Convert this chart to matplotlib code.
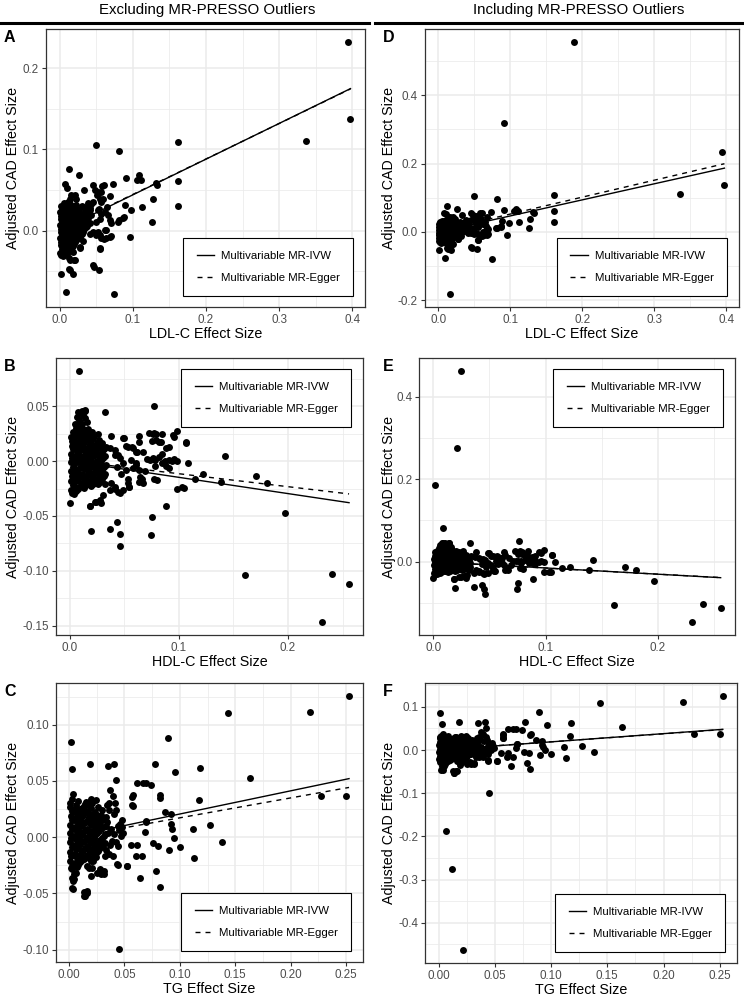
import numpy as np
import matplotlib
matplotlib.use('Agg')
import matplotlib.pyplot as plt
from matplotlib.ticker import MultipleLocator, FuncFormatter
from matplotlib.lines import Line2D

plt.rcParams['font.family'] = ['Liberation Sans', 'DejaVu Sans']
plt.rcParams['axes.unicode_minus'] = False

# ---- data: (exposure effect, adjusted CAD effect) ----
ldl_pts = np.array([
    [0.3945, 0.2328], [0.3975, 0.1377], [0.336, 0.1098], [0.161, 0.109], [0.161, 0.0607], [0.161, 0.030],
    [0.049, 0.1057], [0.081, 0.0975], [0.0127, 0.0758], [0.026, 0.0684], [0.0077, 0.057], [0.0105, 0.053],
    [0.045, 0.0557], [0.0486, 0.0496], [0.051, 0.044], [0.061, 0.0566], [0.073, 0.0574], [0.033, 0.0504],
    [0.091, 0.065], [0.108, 0.068], [0.105, 0.062], [0.111, 0.062], [0.132, 0.059], [0.133, 0.0557],
    [0.128, 0.039], [0.112, 0.029], [0.126, 0.0107], [0.0886, 0.031], [0.087, 0.016], [0.098, 0.0258],
    [0.0955, -0.0074], [0.080, 0.0107], [0.0695, 0.0094], [0.068, -0.0074], [0.063, 0.0008], [0.060, -0.0107],
    [0.0545, -0.023], [0.057, 0.0475], [0.059, 0.039], [0.0645, 0.029], [0.053, 0.026], [0.046, 0.035],
    [0.038, 0.0344], [0.046, -0.0426], [0.0536, -0.049], [0.0745, -0.0787], [0.009, -0.0754], [0.0014, -0.054],
    [0.0123, -0.0475], [0.0177, -0.053], [0.019, -0.0365], [0.0123, -0.0344], [0.0273, -0.020], [0.0145, -0.019],
    [0.041, -0.0037], [0.050, -0.0057], [0.052, -0.0016], [0.032, -0.013], [0.027, -0.0078],
    [0.016, 0.0434], [0.0205, 0.0443], [0.0227, 0.039], [0.0136, 0.039], [0.0523, 0.0476], [0.058, 0.055],
    [0.0555, 0.039], [0.0568, 0.0353], [0.068, 0.0427], [0.0432, 0.0332], [0.0364, 0.0291], [0.041, 0.025],
    [0.0523, 0.025], [0.0568, 0.0209], [0.0614, 0.023], [0.066, 0.0188], [0.068, 0.0127], [0.0545, 0.0148],
    [0.050, 0.0107], [0.0455, -0.0016], [0.0545, -0.0058], [0.0614, 0.0004], [0.0637, -0.0098], [0.0568, -0.009],
    [0.0695, -0.0066], [0.0555, -0.0221], [0.0273, -0.0213], [0.018, -0.0262], [0.0146, -0.0365], [0.0205, -0.0365],
    [0.0068, -0.0283], [0.0023, -0.0304], [0.0045, -0.0242], [0.0136, -0.0488], [0.0468, -0.0455],
    [0.0877, 0.0168], [0.0809, 0.0127],
    [0.0008, -0.0275], [0.0012, -0.0182], [0.0006, -0.0098], [0.0015, -0.0021], [0.0009, 0.0062], [0.0013, 0.0141],
    [0.0007, 0.0224], [0.0018, 0.0298], [0.0042, -0.0311], [0.0038, -0.0223], [0.0045, -0.0131], [0.0036, -0.0048],
    [0.0041, 0.0034], [0.0047, 0.0108], [0.0039, 0.0192], [0.0044, 0.0268], [0.0051, 0.0336], [0.0072, -0.0258],
    [0.0069, -0.0166], [0.0075, -0.0079], [0.0068, 0.0004], [0.0078, 0.0083], [0.0071, 0.0159], [0.0074, 0.0243],
    [0.0079, 0.0318], [0.0101, -0.0287], [0.0098, -0.0203], [0.0105, -0.0112], [0.0097, -0.0028], [0.0103, 0.0052],
    [0.0108, 0.0131], [0.0099, 0.0213], [0.0104, 0.0288], [0.0112, 0.0357], [0.0131, -0.0238], [0.0128, -0.0149],
    [0.0135, -0.0061], [0.0127, 0.0022], [0.0133, 0.0098], [0.0138, 0.0181], [0.0129, 0.0262], [0.0134, 0.0329],
    [0.0162, -0.0203], [0.0158, -0.0108], [0.0165, -0.0019], [0.0159, 0.0071], [0.0166, 0.0152], [0.0161, 0.0232],
    [0.0168, 0.0308], [0.0192, -0.0171], [0.0188, -0.0083], [0.0195, 0.0011], [0.0189, 0.0098], [0.0197, 0.0187],
    [0.0191, 0.0279], [0.0223, -0.0118], [0.0218, -0.0032], [0.0226, 0.0058], [0.0221, 0.0141], [0.0228, 0.0222],
    [0.0224, 0.0318], [0.0258, -0.0089], [0.0262, 0.0003], [0.0255, 0.0092], [0.0264, 0.0171], [0.0259, 0.0252],
    [0.0298, -0.0048], [0.0303, 0.0042], [0.0296, 0.0124], [0.0305, 0.0208], [0.0301, 0.0297], [0.0338, 0.0019],
    [0.0344, 0.0108], [0.0336, 0.0193], [0.0342, 0.0271], [0.0378, 0.0061], [0.0385, 0.0152], [0.0381, 0.0232],
    [0.0418, 0.0098], [0.0424, 0.0189], [0.0415, 0.0276],
    [0.0025, -0.0232], [0.0022, -0.0141], [0.0028, -0.0062], [0.0021, 0.0019], [0.0026, 0.0101], [0.0023, 0.0183],
    [0.0029, 0.0259], [0.0057, -0.0271], [0.0061, -0.0178], [0.0055, -0.0092], [0.0059, -0.0011], [0.0063, 0.0071],
    [0.0056, 0.0149], [0.0062, 0.0229], [0.0058, 0.0302], [0.0088, -0.0241], [0.0085, -0.0152], [0.0091, -0.0068],
    [0.0087, 0.0018], [0.0093, 0.0097], [0.0086, 0.0178], [0.0089, 0.0262], [0.0092, 0.0331], [0.0118, -0.0255],
    [0.0115, -0.0168], [0.0121, -0.0083], [0.0117, 0.0009], [0.0122, 0.0088], [0.0116, 0.0168], [0.0119, 0.0248],
    [0.0123, 0.0311], [0.0147, -0.0221], [0.0144, -0.0127], [0.0149, -0.0041], [0.0146, 0.0048], [0.0151, 0.0128],
    [0.0143, 0.0208], [0.0148, 0.0287], [0.0177, -0.0188], [0.0174, -0.0096], [0.0179, -0.0008], [0.0176, 0.0082],
    [0.0181, 0.0168], [0.0173, 0.0251], [0.0207, -0.0142], [0.0204, -0.0052], [0.0209, 0.0036], [0.0206, 0.0121],
    [0.0211, 0.0201], [0.0203, 0.0298], [0.0241, -0.0103], [0.0238, -0.0016], [0.0244, 0.0073], [0.0239, 0.0157],
    [0.0246, 0.0238], [0.0281, -0.0071], [0.0278, 0.0021], [0.0284, 0.0108], [0.0279, 0.0188], [0.0321, -0.0021],
    [0.0318, 0.0064], [0.0325, 0.0152], [0.0361, 0.0038], [0.0358, 0.0129], [0.0365, 0.0212],
])

hdl_pts = np.array([
    [0.0082, 0.0825], [0.0767, 0.050], [0.0324, 0.0449], [0.0085, 0.0443], [0.0142, 0.0458],
    [0.0764, 0.0247], [0.079, 0.0247], [0.084, 0.025], [0.079, 0.0196], [0.0833, 0.0172], [0.0945, 0.024],
    [0.0985, 0.0277], [0.106, 0.0166], [0.063, 0.0232], [0.049, 0.021], [0.0515, 0.0136], [0.0567, 0.0127],
    [0.0615, 0.0087], [0.067, 0.0087], [0.0758, 0.0027], [0.078, 0.0012], [0.078, -0.004], [0.0873, -0.0003],
    [0.091, 0.0006], [0.094, -0.0003], [0.0879, 0.012], [0.0848, 0.0066], [0.108, -0.0015], [0.1218, -0.012],
    [0.115, -0.016], [0.139, -0.019], [0.142, 0.0045], [0.171, -0.0136], [0.1806, -0.0196], [0.197, -0.0476],
    [0.1606, -0.1042], [0.2403, -0.1033], [0.256, -0.1123], [0.2309, -0.147],
    [0.0985, -0.0256], [0.103, -0.024], [0.105, -0.0245], [0.0885, -0.041], [0.0752, -0.0506], [0.0742, -0.0672],
    [0.043, -0.0554], [0.0364, -0.0617], [0.0455, -0.0663], [0.046, -0.077], [0.0197, -0.064], [0.018, -0.0407],
    [0.0242, -0.037], [0.0288, -0.0386], [0.0, -0.0386], [0.0015, -0.0295], [0.0036, -0.030],
    [0.041, -0.0235], [0.0455, -0.0295], [0.049, -0.0265], [0.054, -0.0235], [0.053, -0.016], [0.066, -0.0166],
    [0.0645, -0.0145], [0.063, -0.0084], [0.061, -0.0033], [0.038, -0.020], [0.0606, -0.0015], [0.0736, 0.0012],
    [0.0412, 0.006], [0.0379, 0.0232], [0.037, 0.0121], [0.0409, 0.0097], [0.044, 0.0058], [0.050, 0.0212],
    [0.053, 0.0133], [0.0576, 0.0121], [0.0606, 0.0081], [0.0727, 0.0253], [0.0773, 0.0253], [0.0636, 0.0172],
    [0.0757, 0.0187], [0.0818, 0.0172], [0.0909, 0.0127], [0.0955, 0.0217], [0.1061, 0.0172],
    [0.0818, 0.004], [0.0848, -0.002], [0.0909, -0.006], [0.0955, 0.002], [0.0985, 0.0], [0.0879, -0.004],
    [0.0636, -0.019], [0.0667, -0.0204], [0.053, -0.0204], [0.0545, -0.0235], [0.0409, -0.025], [0.0364, -0.0265],
    [0.044, -0.028], [0.0773, -0.016], [0.0803, -0.0175], [0.0227, -0.037], [0.0273, -0.0355], [0.0303, -0.031],
    [0.0188, -0.0407], [0.0075, 0.0452], [0.0106, 0.0458], [0.0136, 0.0465],
    [0.046, 0.003], [0.049, -0.002], [0.051, -0.008], [0.047, -0.012], [0.043, -0.005], [0.056, 0.001],
    [0.058, -0.006], [0.071, 0.002], [0.069, -0.009],
    [0.0009, -0.0262], [0.0014, -0.0178], [0.0007, -0.0091], [0.0012, -0.0012], [0.0006, 0.0068], [0.0015, 0.0142],
    [0.0011, 0.0224], [0.0038, -0.0228], [0.0043, -0.0139], [0.0036, -0.0052], [0.0041, 0.0029], [0.0047, 0.0107],
    [0.0039, 0.0189], [0.0044, 0.0265], [0.0049, 0.0342], [0.0071, -0.0251], [0.0075, -0.0168], [0.0068, -0.0083],
    [0.0077, -0.0004], [0.0072, 0.0078], [0.0079, 0.0155], [0.0069, 0.0236], [0.0074, 0.0301], [0.0081, 0.0372],
    [0.0102, -0.0216], [0.0098, -0.0131], [0.0106, -0.0047], [0.0101, 0.0036], [0.0108, 0.0118], [0.0097, 0.0198],
    [0.0104, 0.0275], [0.0109, 0.0336], [0.0133, -0.0243], [0.0128, -0.0158], [0.0136, -0.0072], [0.0131, 0.0009],
    [0.0138, 0.0091], [0.0127, 0.0172], [0.0135, 0.0248], [0.0141, 0.0392], [0.0162, -0.0199], [0.0167, -0.0113],
    [0.0159, -0.0029], [0.0165, 0.0053], [0.0171, 0.0134], [0.0158, 0.0214], [0.0168, 0.0296], [0.0194, -0.0228],
    [0.0198, -0.0143], [0.0191, -0.0058], [0.0197, 0.0024], [0.0202, 0.0104], [0.0189, 0.0187], [0.0199, 0.0262],
    [0.0226, -0.0188], [0.0231, -0.0099], [0.0222, -0.0017], [0.0229, 0.0066], [0.0235, 0.0148], [0.0224, 0.0228],
    [0.0258, -0.0212], [0.0262, -0.0125], [0.0255, -0.0041], [0.0266, 0.0038], [0.0259, 0.0119], [0.0268, 0.0196],
    [0.0261, 0.0251], [0.0291, -0.0161], [0.0296, -0.0078], [0.0288, 0.0003], [0.0298, 0.0087], [0.0293, 0.0166],
    [0.0324, -0.0118], [0.0329, -0.0036], [0.0321, 0.0049], [0.0332, 0.0128], [0.0318, -0.0205],
    [0.0024, -0.0221], [0.0021, -0.0134], [0.0027, -0.0052], [0.0022, 0.0027], [0.0026, 0.0106], [0.0023, 0.0183],
    [0.0028, 0.0262], [0.0056, -0.0269], [0.0059, -0.0185], [0.0054, -0.0096], [0.0058, -0.0012], [0.0062, 0.0068],
    [0.0055, 0.0148], [0.0061, 0.0228], [0.0057, 0.0305], [0.0063, 0.0398], [0.0087, -0.0233], [0.0084, -0.0149],
    [0.0089, -0.0064], [0.0086, 0.0018], [0.0091, 0.0098], [0.0085, 0.0178], [0.0088, 0.0258], [0.0092, 0.0355],
    [0.0117, -0.0199], [0.0114, -0.0113], [0.0119, -0.0029], [0.0116, 0.0051], [0.0121, 0.0134], [0.0113, 0.0213],
    [0.0118, 0.0292], [0.0122, 0.0421], [0.0148, -0.0221], [0.0145, -0.0136], [0.0151, -0.0051], [0.0147, 0.0031],
    [0.0152, 0.0112], [0.0144, 0.0193], [0.0149, 0.0272], [0.0153, 0.0352], [0.0178, -0.0178], [0.0175, -0.0092],
    [0.0181, -0.0008], [0.0177, 0.0074], [0.0183, 0.0153], [0.0174, 0.0238], [0.0211, -0.0206], [0.0208, -0.0121],
    [0.0213, -0.0037], [0.0209, 0.0046], [0.0215, 0.0126], [0.0207, 0.0208], [0.0243, -0.0167], [0.0239, -0.0079],
    [0.0246, 0.0004], [0.0241, 0.0086], [0.0247, 0.0169], [0.0275, -0.0188], [0.0278, -0.0101], [0.0272, -0.0019],
    [0.0281, 0.0061], [0.0276, 0.0141], [0.0308, -0.0139], [0.0311, -0.0056], [0.0305, 0.0026], [0.0313, 0.0106],
])

tg_pts = np.array([
    [0.2527, 0.1258], [0.2171, 0.1117], [0.1437, 0.110], [0.0892, 0.0883], [0.0015, 0.0847], [0.003, 0.0607],
    [0.0186, 0.0655], [0.0353, 0.0637], [0.041, 0.0649], [0.0425, 0.0505], [0.0772, 0.0649], [0.118, 0.0616],
    [0.0961, 0.0577], [0.1635, 0.0523], [0.0665, 0.0486], [0.0692, 0.048], [0.0743, 0.0462], [0.0575, 0.0378],
    [0.0569, 0.036], [0.082, 0.0375], [0.0817, 0.0348], [0.117, 0.033], [0.2275, 0.037], [0.250, 0.0362],
    [0.0868, 0.0225], [0.0922, 0.021], [0.0916, 0.012], [0.0928, 0.0072], [0.0949, -0.0009], [0.0698, 0.0135],
    [0.0689, 0.0045], [0.1117, 0.0075], [0.1272, 0.0105], [0.1003, -0.0084], [0.1383, -0.0039], [0.1132, -0.0186],
    [0.076, -0.0054], [0.0802, -0.0078], [0.0904, -0.0114], [0.0784, -0.0297], [0.0817, -0.0447], [0.0641, -0.036],
    [0.0659, -0.0171], [0.0608, -0.0168], [0.0614, -0.0069], [0.0557, -0.0069], [0.0521, -0.0252], [0.0437, -0.024],
    [0.0449, -0.0997], [0.0404, 0.0024], [0.0389, -0.003], [0.0359, -0.015], [0.0398, -0.0165], [0.0329, -0.0165],
    [0.0314, -0.030], [0.0269, -0.0306], [0.0216, -0.021], [0.0246, -0.018], [0.0159, -0.0477], [0.0132, -0.049],
    [0.0141, -0.0523], [0.0374, 0.042], [0.0395, 0.0367], [0.0419, 0.030], [0.0428, 0.024], [0.0404, 0.021],
    [0.0359, 0.030], [0.0344, 0.0286], [0.0365, 0.024], [0.020, 0.0337], [0.0245, 0.033], [0.0209, 0.030],
    [0.0263, 0.027], [0.030, 0.024], [0.0285, 0.0195], [0.033, 0.018], [0.0344, 0.0135], [0.0254, 0.0135],
    [0.0278, -0.0285], [0.0254, -0.0315], [0.021, -0.027], [0.018, -0.027], [0.0164, -0.0255], [0.0195, -0.0345],
    [0.0285, -0.033], [0.0314, -0.0324], [0.003, -0.0285], [0.0015, -0.027], [0.0045, -0.033], [0.006, -0.0315],
    [0.003, -0.036], [0.0039, -0.039], [0.0024, -0.045], [0.0036, -0.0465], [0.0045, -0.0375], [0.0135, -0.0525],
    [0.0164, -0.0495], [0.0614, 0.0486], [0.0569, 0.029], [0.0575, 0.028], [0.0695, 0.0141], [0.0524, -0.0255],
    [0.044, -0.0246], [0.046, 0.012], [0.048, 0.009], [0.045, 0.006], [0.049, 0.004], [0.044, 0.010],
    [0.047, 0.001], [0.042, -0.004], [0.044, -0.008], [0.037, -0.007], [0.033, -0.011], [0.038, 0.007],
    [0.035, 0.004], [0.0478, 0.0155],
    [0.0008, -0.0212], [0.0013, -0.0128], [0.0006, -0.0047], [0.0011, 0.0034], [0.0007, 0.0112], [0.0014, 0.0189],
    [0.0009, 0.0268], [0.0012, 0.0302], [0.0037, -0.0241], [0.0042, -0.0162], [0.0035, -0.0081], [0.0044, -0.0003],
    [0.0038, 0.0078], [0.0046, 0.0154], [0.0041, 0.0232], [0.0036, 0.0381], [0.0068, -0.0268], [0.0073, -0.0189],
    [0.0066, -0.0108], [0.0075, -0.0029], [0.0069, 0.0049], [0.0077, 0.0128], [0.0071, 0.0205], [0.0065, 0.0286],
    [0.0099, -0.0221], [0.0104, -0.0141], [0.0096, -0.0062], [0.0107, 0.0017], [0.0101, 0.0095], [0.0108, 0.0172],
    [0.0098, 0.0252], [0.0131, -0.0193], [0.0126, -0.0111], [0.0135, -0.0034], [0.0128, 0.0046], [0.0137, 0.0123],
    [0.0129, 0.0201], [0.0134, 0.0278], [0.0162, -0.0162], [0.0158, -0.0082], [0.0166, -0.0002], [0.0159, 0.0077],
    [0.0167, 0.0158], [0.0161, 0.0236], [0.0156, 0.0312], [0.0194, -0.0211], [0.0189, -0.0128], [0.0197, -0.0049],
    [0.0191, 0.0031], [0.0199, 0.0109], [0.0192, 0.0188], [0.0198, 0.0262], [0.0226, -0.0167], [0.0231, -0.0088],
    [0.0223, -0.0008], [0.0233, 0.0072], [0.0228, 0.0149], [0.0235, 0.0228], [0.0258, -0.0121], [0.0263, -0.0042],
    [0.0255, 0.0039], [0.0266, 0.0112], [0.0261, 0.0191], [0.0292, -0.0083], [0.0297, -0.0004], [0.0289, 0.0078],
    [0.0299, 0.0152], [0.0327, -0.0051], [0.0321, 0.0032], [0.0332, 0.0102],
    [0.0023, -0.0252], [0.0021, -0.0168], [0.0027, -0.0088], [0.0022, -0.0006], [0.0026, 0.0073], [0.0024, 0.0151],
    [0.0028, 0.0229], [0.0025, 0.0335], [0.0053, -0.0228], [0.0057, -0.0149], [0.0051, -0.0068], [0.0058, 0.0012],
    [0.0054, 0.0091], [0.0059, 0.0168], [0.0055, 0.0248], [0.0084, -0.0245], [0.0088, -0.0165], [0.0082, -0.0085],
    [0.0089, -0.0008], [0.0085, 0.0072], [0.0091, 0.0149], [0.0086, 0.0228], [0.0081, 0.0318], [0.0115, -0.0207],
    [0.0118, -0.0126], [0.0113, -0.0047], [0.0121, 0.0032], [0.0116, 0.0109], [0.0119, 0.0188], [0.0114, 0.0262],
    [0.0146, -0.0178], [0.0143, -0.0096], [0.0149, -0.0018], [0.0145, 0.0061], [0.0151, 0.0139], [0.0144, 0.0219],
    [0.0148, 0.0295], [0.0177, -0.0188], [0.0174, -0.0105], [0.0181, -0.0026], [0.0176, 0.0054], [0.0182, 0.0133],
    [0.0175, 0.0212], [0.0179, 0.0288], [0.0209, -0.0189], [0.0212, -0.0108], [0.0207, -0.0028], [0.0214, 0.0051],
    [0.0211, 0.0128], [0.0216, 0.0208], [0.0242, -0.0144], [0.0245, -0.0064], [0.0239, 0.0017], [0.0248, 0.0092],
    [0.0243, 0.0171], [0.0275, -0.0102], [0.0279, -0.0022], [0.0273, 0.0059], [0.0281, 0.0132], [0.0309, -0.0067],
    [0.0312, 0.0014], [0.0306, 0.0089],
])

# MR-PRESSO outliers (only in the right-hand column)
ldl_outliers = np.array([[0.188, 0.557], [0.091, 0.320], [0.016, -0.1825]])
hdl_outliers = np.array([[0.025, 0.463], [0.0215, 0.275], [0.0012, 0.187]])
tg_outliers = np.array([[0.0218, -0.4635], [0.0124, -0.2764], [0.0065, -0.187]])

# fitted lines: (intercept, slope) for IVW and Egger
fits_excl = {'LDL': [(0.0, 0.44), (0.0008, 0.437)],
             'HDL': [(0.0, -0.148), (0.0003, -0.118)],
             'TG': [(0.0, 0.206), (-0.0005, 0.177)]}
fits_incl = {'LDL': [(0.0, 0.47), (0.003, 0.495)],
             'HDL': [(0.0, -0.151), (-0.0005, -0.148)],
             'TG': [(0.0, 0.19), (0.0005, 0.186)]}

legend_labels = ['Multivariable MR-IVW', 'Multivariable MR-Egger']
x_titles = {'LDL': 'LDL-C Effect Size', 'HDL': 'HDL-C Effect Size', 'TG': 'TG Effect Size'}

W, H = 744, 996
fig = plt.figure(figsize=(W / 100, H / 100), dpi=100)

# panel layout in pixels: letter, key, included?, (left, top, right, bottom), x step, y step, x dec, y dec, legend
panels = [
    ('A', 'LDL', False, (45.7, 29, 365, 307), 0.1, 0.1, 1, 1, 'lower'),
    ('B', 'HDL', False, (56, 358, 363, 635), 0.1, 0.05, 1, 2, 'upper'),
    ('C', 'TG', False, (55.7, 683, 363, 962), 0.05, 0.05, 2, 2, 'lower'),
    ('D', 'LDL', True, (424.5, 29, 738.7, 307), 0.1, 0.2, 1, 1, 'lower'),
    ('E', 'HDL', True, (419, 358, 735, 635), 0.1, 0.2, 1, 1, 'upper'),
    ('F', 'TG', True, (425, 683, 737, 963), 0.05, 0.1, 2, 1, 'lower'),
]
base = {'LDL': ldl_pts, 'HDL': hdl_pts, 'TG': tg_pts}
extra = {'LDL': ldl_outliers, 'HDL': hdl_outliers, 'TG': tg_outliers}

border = '#333333'


def fmt(d):
    return FuncFormatter(lambda v, p: f'{round(v, d) + 0.0:.{d}f}')


for letter, key, incl, (l, t, r, b), xs, ys, xd, yd, legpos in panels:
    ax = fig.add_axes([l / W, 1 - b / H, (r - l) / W, (b - t) / H])
    pts = np.vstack([base[key], extra[key]]) if incl else base[key]
    x, y = pts[:, 0], pts[:, 1]

    ax.scatter(x, y, s=25, c='black', linewidths=0, zorder=3)
    xx = np.array([x.min(), x.max()])
    fits = fits_incl[key] if incl else fits_excl[key]
    ax.plot(xx, fits[0][0] + fits[0][1] * xx, color='black', lw=1.0, zorder=4)
    ax.plot(xx, fits[1][0] + fits[1][1] * xx, color='black', lw=1.0, dashes=(3.6, 3.6), zorder=4)

    # ggplot style 5% expansion
    xr = x.max() - x.min()
    yr = y.max() - y.min()
    ax.set_xlim(x.min() - 0.05 * xr, x.max() + 0.05 * xr)
    ax.set_ylim(y.min() - 0.05 * yr, y.max() + 0.05 * yr)

    ax.xaxis.set_major_locator(MultipleLocator(xs))
    ax.xaxis.set_minor_locator(MultipleLocator(xs / 2))
    ax.yaxis.set_major_locator(MultipleLocator(ys))
    ax.yaxis.set_minor_locator(MultipleLocator(ys / 2))
    ax.xaxis.set_major_formatter(fmt(xd))
    ax.yaxis.set_major_formatter(fmt(yd))

    ax.set_axisbelow(True)
    ax.grid(which='major', color='#EBEBEB', lw=1.1)
    ax.grid(which='minor', color='#EBEBEB', lw=0.55)
    ax.tick_params(which='major', direction='out', length=2.75, width=0.8, color=border,
                   labelsize=8.4, labelcolor='#4D4D4D', pad=2.2)
    ax.tick_params(which='minor', length=0)
    for sp in ax.spines.values():
        sp.set_color(border)
        sp.set_linewidth(0.9)

    handles = [Line2D([], [], color='black', lw=1.0),
               Line2D([], [], color='black', lw=1.0, dashes=(3.6, 3.6))]
    rf = (r - 12 - l) / (r - l)
    if legpos == 'lower':
        anchor, loc = (rf, 11 / (b - t)), 'lower right'
    else:
        anchor, loc = (rf, 1 - 11 / (b - t)), 'upper right'
    leg = ax.legend(handles, legend_labels, loc=loc, bbox_to_anchor=anchor, borderaxespad=0,
                    prop={'size': 8.2}, borderpad=1.15, labelspacing=1.05, handlelength=1.55,
                    handletextpad=0.6, fancybox=False, edgecolor='black', framealpha=1)
    leg.get_frame().set_linewidth(0.8)
    leg.set_zorder(6)

    # titles
    cx = (l + r) / 2 / W
    fig.text(cx, 1 - (b + 27) / H, x_titles[key], ha='center', va='center', fontsize=10.3, color='black')
    ylx = 389 if incl else 13
    fig.text(ylx / W, 1 - (t + b) / 2 / H, 'Adjusted CAD Effect Size', rotation=90,
             ha='center', va='center', fontsize=10.3, color='black')
    lx = 383 if incl else 4
    fig.text(lx / W, 1 - (t + 8) / H, letter, ha='left', va='center', fontsize=11.5,
             fontweight='bold', color='black')

# column headers
fig.text(207 / W, 1 - 10 / H, 'Excluding MR-PRESSO Outliers', ha='center', va='center', fontsize=10.8)
fig.text(579 / W, 1 - 10 / H, 'Including MR-PRESSO Outliers', ha='center', va='center', fontsize=10.8)
fig.add_artist(Line2D([1 / W, 369 / W], [1 - 23 / H] * 2, color='black', lw=2.2))
fig.add_artist(Line2D([375 / W, 743 / W], [1 - 23 / H] * 2, color='black', lw=2.2))

fig.savefig('out.png', dpi=100)
